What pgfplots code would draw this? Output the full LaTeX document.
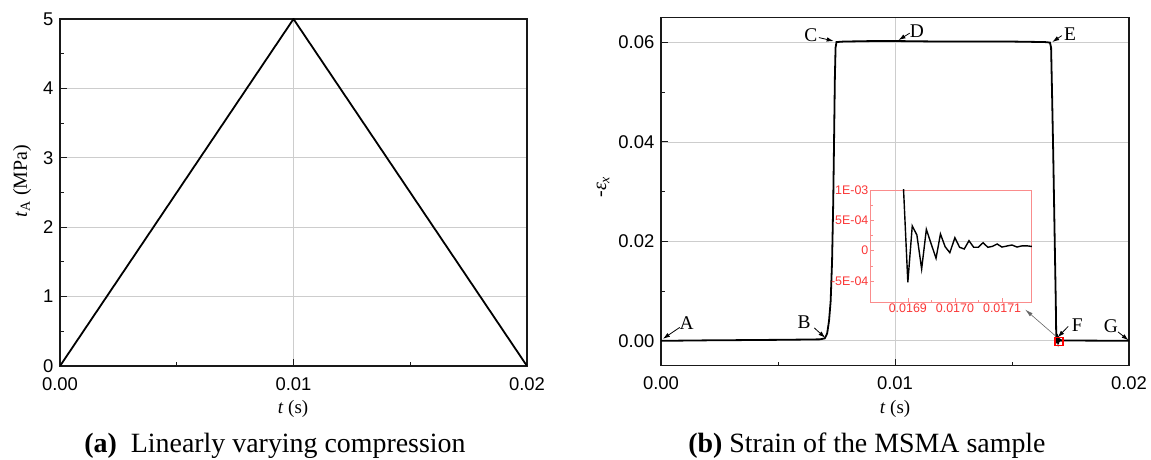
\documentclass[border=0pt]{standalone}
\usepackage{fontspec}
\setmainfont{Liberation Serif}
\newfontfamily\arial{Liberation Sans}
\usepackage{pgfplots}
\pgfplotsset{compat=1.18}
\usetikzlibrary{arrows.meta}

\definecolor{gridc}{RGB}{205,205,205}
\definecolor{axc}{RGB}{25,25,25}
\definecolor{insetred}{RGB}{250,55,55}
\definecolor{insetframe}{RGB}{250,140,140}

\pgfplotsset{
  panel/.style={
    scale only axis, anchor=south west, scaled ticks=false,
    tick align=inside, xtick pos=bottom, ytick pos=left,
    major tick length=7bp, minor tick length=4bp,
    axis line style={line width=1.5bp, axc},
    every tick/.style={line width=1bp, axc},
    grid=major, grid style={gridc, line width=0.9bp},
    tick label style={font=\fontsize{18.5}{18.5}\selectfont\arial, text=black, inner sep=0pt},
    xticklabel style={yshift=-11bp},
    yticklabel style={xshift=-6.5bp},
    /pgf/number format/assume math mode=true,
    minor x tick num=1, minor y tick num=1,
    xmin=0, xmax=0.02,
    xtick={0,0.01,0.02}, xticklabels={0.00,0.01,0.02},
  },
}
\tikzset{
  lbl/.style={font=\fontsize{19.5}{19.5}\selectfont},
  ann/.style={-{Latex[length=7bp,width=4.5bp]}, line width=0.8bp, black},
}

% time (s), load (MPa)
\pgfplotstableread{
t tA
0 0
0.01 5
0.02 0
}\loadtable

% time (s), -strain
\pgfplotstableread{
t e
0 0
0.001 0.00005
0.002 0.0001
0.003 0.00013
0.004 0.00017
0.005 0.0002
0.006 0.00025
0.0068 0.0003
0.00700 0.0005
0.00710 0.0015
0.00718 0.004
0.00725 0.008
0.00731 0.016
0.00736 0.028
0.00740 0.042
0.00743 0.053
0.00746 0.0590
0.00750 0.0601
0.0078 0.0602
0.0090 0.0603
0.0101 0.0603
0.0120 0.0602
0.0150 0.0602
0.0164 0.0601
0.01662 0.0600
0.01667 0.0590
0.01671 0.050
0.01676 0.038
0.01680 0.027
0.01684 0.016
0.01687 0.008
0.016888 0.0015
0.0169000 -0.00052
0.0169094 0.000407
0.0169192 0.000259
0.0169293 -0.000301
0.0169393 0.000352
0.0169491 0.000122
0.0169598 -0.000125
0.0169692 0.000275
0.0169791 0.000066
0.0169891 -0.000033
0.0169998 0.000214
0.0170098 0.000056
0.0170197 0.000028
0.0170297 0.000165
0.0170397 0.000056
0.0170496 0.000056
0.0170596 0.000132
0.0170697 0.000056
0.0170795 0.000072
0.0170895 0.00011
0.0170996 0.00006
0.0171103 0.000077
0.0171209 0.000094
0.0171316 0.00006
0.0171423 0.00008
0.0171530 0.00008
0.0171622 0.00007
0.0172 0.00007
0.0180 0.00005
0.0190 0.00003
0.0200 0.00002
}\straintable

\begin{document}
\begin{tikzpicture}[x=1bp,y=1bp]
\useasboundingbox (0,0) rectangle (1151,460);

% (a) load
\begin{axis}[panel, at={(60bp,94bp)}, width=467bp, height=347bp,
  ymin=0, ymax=5, ytick={0,1,2,3,4,5}]
\addplot[black, line width=1.8bp] table[x=t, y=tA] {\loadtable};
\end{axis}

% (b) strain
\begin{axis}[panel, at={(661bp,94.3bp)}, width=468bp, height=348bp,
  ymin=-0.005, ymax=0.065,
  ytick={0,0.02,0.04,0.06}, yticklabels={0.00,0.02,0.04,0.06}]
\addplot[black, line width=1.8bp] table[x=t, y=e] {\straintable};
\draw[red, line width=1.2bp] (axis cs:0.016838,-0.00086) rectangle (axis cs:0.01718,0.00074);
\draw[-{Latex[length=8bp,width=4bp]}, gray!80!black, line width=0.6bp]
  (axis cs:0.01688,0.0009) -- (axis cs:0.01556,0.0063);
\node[lbl] at (axis cs:0.0011,0.0036) {A};
\draw[ann] (axis cs:0.00080,0.0027) -- (axis cs:0.00008,0.0004);
\node[lbl] at (axis cs:0.00611,0.0038) {B};
\draw[ann] (axis cs:0.00655,0.0026) -- (axis cs:0.00702,0.0006);
\node[lbl] at (axis cs:0.0064,0.0615) {C};
\draw[ann] (axis cs:0.00675,0.0610) -- (axis cs:0.00738,0.0603);
\node[lbl] at (axis cs:0.01093,0.0622) {D};
\draw[ann] (axis cs:0.01063,0.0619) -- (axis cs:0.01015,0.0605);
\node[lbl] at (axis cs:0.01748,0.0617) {E};
\draw[ann] (axis cs:0.01713,0.0614) -- (axis cs:0.01672,0.0601);
\node[lbl] at (axis cs:0.01779,0.00315) {F};
\draw[ann] (axis cs:0.01740,0.0029) -- (axis cs:0.01695,0.0007);
\node[lbl] at (axis cs:0.01922,0.0029) {G};
\draw[ann] (axis cs:0.01953,0.0018) -- (axis cs:0.01998,0.0001);
\end{axis}

% inset
\begin{axis}[scale only axis, anchor=south west, scaled ticks=false,
  at={(870bp,157.7bp)}, width=161.7bp, height=112.3bp,
  xmin=0.01682, xmax=0.017163, ymin=-0.00085, ymax=0.001,
  xtick={0.0169,0.0170,0.0171}, xticklabels={0.0169,0.0170,0.0171},
  ytick={-0.0005,0,0.0005,0.001}, yticklabels={-5E-04,0,5E-04,1E-03},
  minor x tick num=1, minor y tick num=1,
  tick align=inside, xtick pos=bottom, ytick pos=left,
  major tick length=4bp, minor tick length=2.5bp,
  axis line style={line width=0.8bp, insetframe},
  every tick/.style={line width=0.6bp, insetframe},
  tick label style={font=\fontsize{12.5}{12.5}\selectfont\arial, text=insetred, inner sep=1.5bp},
  /pgf/number format/assume math mode=true]
\addplot[black, line width=1.4bp] table[x=t, y=e] {\straintable};
\end{axis}

% axis labels
\node[rotate=90, font=\fontsize{20}{20}\selectfont] at (22,279) {\textit{t}\textsubscript{A} (MPa)};
\node[anchor=base, font=\fontsize{19}{19}\selectfont] at (293,46) {\textit{t} (s)};
\node[rotate=90, font=\fontsize{20}{20}\selectfont] at (603,273) {-\textit{ε}\textsubscript{\textit{x}}};
\node[anchor=base, font=\fontsize{19}{19}\selectfont] at (895,46) {\textit{t} (s)};

% captions
\node[anchor=base, font=\fontsize{28}{28}\selectfont] at (275,7) {\textbf{(a)}\ \ Linearly varying compression};
\node[anchor=base, font=\fontsize{28}{28}\selectfont] at (867,7) {\textbf{(b)} Strain of the MSMA sample};
\end{tikzpicture}
\end{document}
